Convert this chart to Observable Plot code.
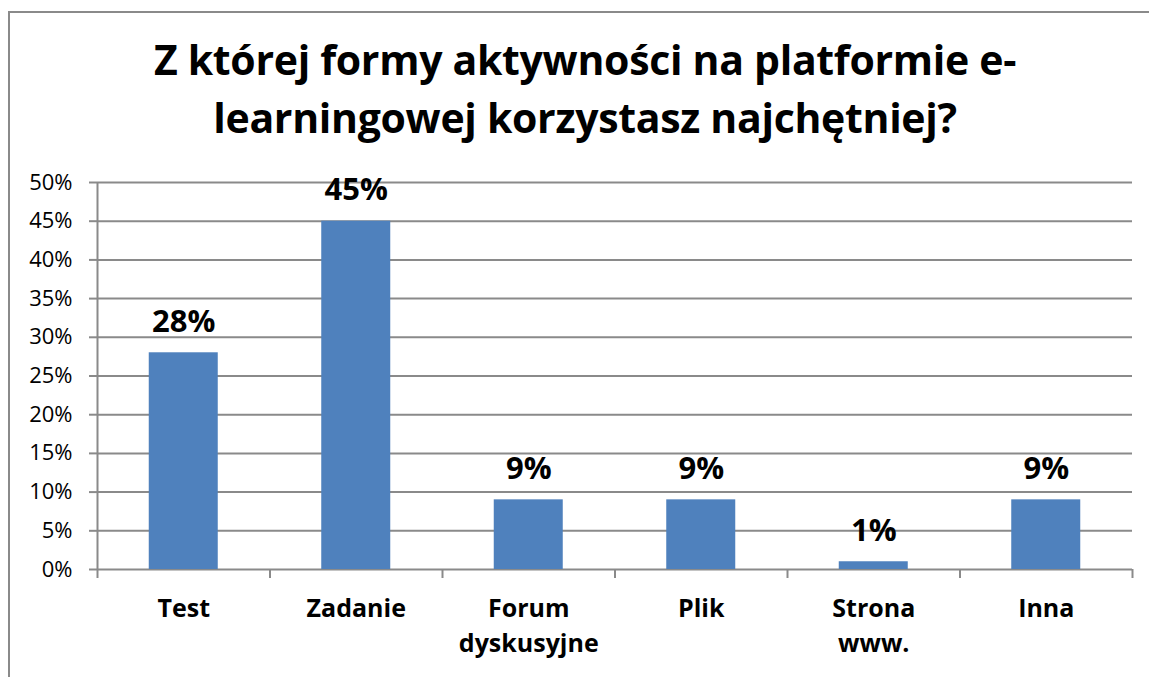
<!DOCTYPE html>
<html>
<head>
<meta charset="utf-8">
<script src="https://cdn.jsdelivr.net/npm/d3@7"></script>
<script src="https://cdn.jsdelivr.net/npm/@observablehq/plot@0.6"></script>
<style>
  html, body { margin: 0; padding: 0; background: #fff; }
  #wrap { position: relative; width: 1149px; height: 677px; overflow: hidden; background: #fff; font-family: "Open Sans", sans-serif; }
  #border { position: absolute; left: 8px; top: 11px; width: 1200px; height: 800px; border: 2px solid #8a8a8a; box-sizing: border-box; }
  #title { position: absolute; left: 9px; width: 1152px; top: 30px; text-align: center; font-weight: 700; font-size: 41px; line-height: 58px; color: #000; letter-spacing: -0.3px; }
  #chart { position: absolute; left: 0; top: 150px; }
</style>
</head>
<body>
<div id="wrap">
  <div id="border"></div>
  <div id="title">Z której formy aktywności na platformie e-<br>learningowej korzystasz najchętniej?</div>
  <div id="chart"></div>
</div>
<script>
const categories = ["Test", "Zadanie", "Forum\ndyskusyjne", "Plik", "Strona\nwww.", "Inna"];
const values = [0.28, 0.45, 0.09, 0.09, 0.01, 0.09];
const valueLabels = ["28%", "45%", "9%", "9%", "1%", "9%"];
const yTicks = [0, 0.05, 0.10, 0.15, 0.20, 0.25, 0.30, 0.35, 0.40, 0.45, 0.50];

const data = categories.map((c, i) => ({category: c, index: i, value: values[i], label: valueLabels[i]}));
const boundaries = d3.range(0, categories.length + 1);
const gridColor = "#8a8a8a";

const chart = Plot.plot({
  width: 1149,
  height: 527,
  marginTop: 32,
  marginBottom: 108,
  marginLeft: 97,
  marginRight: 17,
  style: {fontFamily: "Open Sans, sans-serif", background: "transparent", color: "#000"},
  x: {type: "linear", domain: [0, categories.length]},
  y: {domain: [0, 0.5]},
  marks: [
    Plot.ruleY(yTicks, {stroke: gridColor, strokeWidth: 2}),
    Plot.axisY({ticks: yTicks, tickFormat: d3.format(".0%"), tickSize: 8, tickPadding: 17, stroke: gridColor, strokeWidth: 2, strokeOpacity: 1, fontSize: 22, fill: "#000", label: null}),
    Plot.axisX({ticks: boundaries, tickFormat: () => "", tickSize: 9, stroke: gridColor, strokeWidth: 2, strokeOpacity: 1, label: null}),
    Plot.ruleX([0], {stroke: gridColor, strokeWidth: 2}),
    Plot.rectY(data, {x1: d => d.index + 0.3, x2: d => d.index + 0.7, y1: 0, y2: "value", fill: "#4f81bd"}),
    Plot.text(data, {x: d => d.index + 0.5, y: "value", text: "label", lineAnchor: "bottom", dy: -21, fontSize: 31, fontWeight: 700, fill: "#000"}),
    Plot.text(data, {x: d => d.index + 0.5, y: 0, text: "category", lineAnchor: "top", dy: 22, fontSize: 25, fontWeight: 700, lineHeight: 1.42, fill: "#000"})
  ]
});
document.getElementById("chart").appendChild(chart);
</script>
</body>
</html>
